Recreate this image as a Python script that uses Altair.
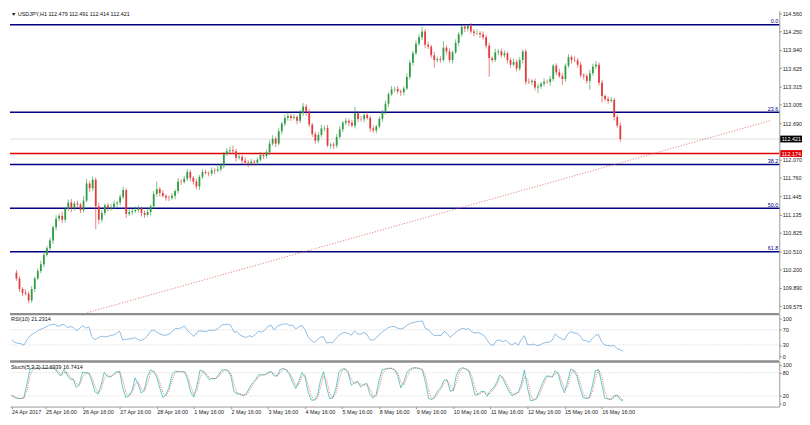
import altair as alt
import pandas as pd

# ---------------- data ----------------
header_text = "\u25bc USDJPY,H1  112.479 112.491 112.414 112.421"
rsi_title = "RSI(10) 21.2314"
stoch_title = "Stoch(5,3,3) 12.6939 16.7414"

first_open = 110.143
closes = [
    110.045, 109.867, 109.803, 109.787, 109.673, 109.867, 110.045, 110.175, 110.288, 110.450,
    110.563, 110.693, 110.919, 111.065, 111.113, 111.048, 111.227, 111.340, 111.243, 111.324,
    111.307, 111.211, 111.372, 111.664, 111.583, 111.728, 111.275, 111.048, 111.162, 111.291,
    111.243, 111.259, 111.324, 111.340, 111.437, 111.550, 111.146, 111.178, 111.194, 111.211,
    111.243, 111.162, 111.129, 111.178, 111.275, 111.486, 111.567, 111.502, 111.453, 111.421,
    111.415, 111.453, 111.534, 111.696, 111.690, 111.745, 111.858, 111.761, 111.696, 111.615,
    111.777, 111.858, 111.842, 111.835, 111.890, 111.884, 111.906, 111.971, 112.165, 112.214,
    112.230, 112.214, 112.100, 112.117, 112.052, 112.020, 112.003, 112.036, 112.020, 112.068,
    112.149, 112.133, 112.197, 112.343, 112.424, 112.343, 112.553, 112.683, 112.780, 112.812,
    112.780, 112.796, 112.731, 112.861, 112.974, 112.877, 112.667, 112.505, 112.392, 112.489,
    112.602, 112.610, 112.311, 112.327, 112.311, 112.456, 112.586, 112.699, 112.731, 112.699,
    112.651, 112.861, 112.764, 112.758, 112.829, 112.780, 112.602, 112.570, 112.634, 112.764,
    112.877, 113.023, 113.185, 113.266, 113.272, 113.233, 113.217, 113.282, 113.476, 113.719,
    113.881, 114.042, 114.155, 114.252, 114.026, 113.994, 113.848, 113.767, 113.783, 113.770,
    113.977, 113.913, 113.767, 113.897, 114.058, 114.204, 114.333, 114.301, 114.345, 114.252,
    114.220, 114.228, 114.204, 114.155, 114.010, 113.800, 113.767, 113.897, 113.913, 113.848,
    113.881, 113.767, 113.686, 113.735, 113.621, 113.767, 113.913, 113.395, 113.388, 113.411,
    113.298, 113.314, 113.363, 113.395, 113.390, 113.443, 113.670, 113.557, 113.492, 113.443,
    113.670, 113.816, 113.767, 113.760, 113.686, 113.508, 113.492, 113.411, 113.541, 113.654,
    113.686, 113.379, 113.152, 113.104, 113.071, 113.088, 112.796, 112.651, 112.421,
]
# upper / lower shadow lengths in pips (0.01)
wick_up = [
    5, 4, 3, 6, 4, 5, 3, 4, 6, 3,
    4, 5, 3, 6, 4, 7, 3, 5, 6, 4,
    5, 3, 8, 8, 4, 5, 4, 6, 5, 3,
    4, 6, 5, 3, 4, 6, 3, 5, 4, 6,
    5, 3, 4, 6, 3, 5, 13, 4, 5, 3,
    4, 5, 3, 6, 4, 5, 5, 4, 3, 5,
    3, 5, 4, 3, 5, 4, 6, 3, 4, 5,
    6, 8, 4, 5, 3, 6, 4, 5, 3, 4,
    5, 3, 4, 6, 6, 4, 5, 3, 6, 6,
    4, 5, 3, 6, 6, 4, 5, 3, 4, 5,
    6, 4, 5, 3, 4, 5, 6, 3, 5, 4,
    5, 11, 4, 5, 3, 6, 4, 5, 3, 4,
    4, 5, 3, 6, 4, 5, 3, 4, 6, 5,
    4, 6, 5, 8, 4, 5, 3, 6, 4, 5,
    11, 4, 5, 3, 6, 4, 3, 3, 2, 5,
    4, 6, 3, 5, 4, 5, 3, 6, 4, 5,
    5, 3, 4, 6, 4, 5, 3, 4, 6, 3,
    4, 5, 3, 6, 4, 5, 3, 4, 6, 5,
    4, 5, 3, 6, 4, 5, 3, 4, 6, 5,
    6, 4, 5, 3, 4, 5, 3, 4, 5,
]
wick_dn = [
    4, 5, 6, 3, 5, 4, 5, 3, 4, 5,
    3, 4, 6, 5, 4, 6, 5, 3, 7, 4,
    6, 5, 4, 3, 6, 5, 39, 8, 5, 4,
    5, 4, 3, 6, 5, 4, 7, 4, 5, 3,
    4, 6, 5, 3, 6, 4, 5, 6, 3, 5,
    5, 3, 6, 4, 5, 3, 4, 6, 5, 5,
    6, 4, 3, 5, 4, 6, 3, 4, 5, 3,
    4, 5, 6, 3, 5, 4, 6, 3, 5, 4,
    3, 5, 4, 5, 4, 6, 3, 5, 4, 5,
    5, 3, 6, 4, 5, 6, 4, 5, 5, 4,
    4, 5, 3, 5, 6, 4, 3, 5, 4, 6,
    3, 5, 6, 4, 5, 3, 6, 4, 5, 3,
    5, 4, 6, 3, 5, 4, 6, 5, 3, 4,
    5, 3, 4, 5, 6, 4, 5, 13, 4, 5,
    3, 5, 4, 6, 3, 5, 4, 6, 5, 4,
    5, 3, 6, 4, 5, 32, 4, 3, 5, 4,
    4, 6, 5, 3, 5, 4, 6, 5, 3, 5,
    5, 10, 4, 5, 3, 6, 4, 5, 3, 10,
    5, 4, 6, 3, 5, 4, 6, 5, 15, 4,
    4, 5, 11, 4, 5, 3, 6, 4, 5,
]

price_ticks = [114.560, 114.250, 113.940, 113.625, 113.315, 113.005, 112.690,
               112.070, 111.760, 111.445, 111.135, 110.825, 110.510, 110.200,
               109.890, 109.575]
fib_prices = [114.366, 112.877, 111.987, 111.243, 110.500]
fib_names = ["0.0", "23.6", "38.2", "50.0", "61.8"]
support_price = 112.174
bid_price = 112.421
trend_idx = [23.2, 247.0]
trend_price = [109.463, 112.731]
rsi_levels = [30, 70]
rsi_ticks = [0, 30, 70, 100]
stoch_levels = [20, 80]
stoch_ticks = [0, 20, 80, 100]
time_idx = [0, 11, 23, 35, 47, 59, 71, 83, 95, 107, 119, 131, 143, 155, 167, 179, 191]
time_labels = ["24 Apr 2017", "25 Apr 16:00", "26 Apr 16:00", "27 Apr 16:00",
               "28 Apr 16:00", "1 May 16:00", "2 May 16:00", "3 May 16:00",
               "4 May 16:00", "5 May 16:00", "8 May 16:00", "9 May 16:00",
               "10 May 16:00", "11 May 16:00", "12 May 16:00", "15 May 16:00",
               "16 May 16:00"]

# ---------------- derived tables ----------------
n = len(closes)
opens = [first_open] + closes[:-1]
highs = [max(o, c) + u / 100 for o, c, u in zip(opens, closes, wick_up)]
lows = [min(o, c) - d / 100 for o, c, d in zip(opens, closes, wick_dn)]
candles = pd.DataFrame({
    "i": list(range(n)), "open": opens, "close": closes, "high": highs, "low": lows,
    "dir": ["up" if c >= o else "down" for o, c in zip(opens, closes)],
})


def rsi_series(vals, period, seed):
    # Wilder smoothing, warmed up with a neutral average move
    ag = al = seed
    out = []
    for k in range(1, len(vals)):
        d = vals[k] - vals[k - 1]
        ag = (ag * (period - 1) + max(d, 0.0)) / period
        al = (al * (period - 1) + max(-d, 0.0)) / period
        out.append(100.0 if al == 0 else 100 - 100 / (1 + ag / al))
    return out


def stoch_series(h, l, c, kp, slow, dp):
    num, den = [], []
    for k in range(len(c)):
        lo = min(l[max(0, k - kp + 1):k + 1])
        hi = max(h[max(0, k - kp + 1):k + 1])
        num.append(c[k] - lo)
        den.append(hi - lo)
    kk = []
    for k in range(len(c)):
        a = sum(num[max(0, k - slow + 1):k + 1])
        b = sum(den[max(0, k - slow + 1):k + 1])
        kk.append(100 * a / b if b else 50.0)
    dd = []
    for k in range(len(c)):
        w = kk[max(0, k - dp + 1):k + 1]
        dd.append(sum(w) / len(w))
    return kk, dd


rsi_vals = rsi_series([first_open] + closes, 8, 0.06)
st_k, st_d = stoch_series(highs, lows, closes, 3, 2, 2)
rsi_df = pd.DataFrame({"i": list(range(n)), "v": rsi_vals})
st_df = pd.DataFrame({"i": list(range(n)) * 2, "v": st_k + st_d,
                      "s": ["main"] * n + ["signal"] * n})

# ---------------- styling ----------------
W = 779
H_MAIN = 306
H_SUB = 46
FONT = "Liberation Sans"
FS = 5.5
GREEN = "#2f9d46"
RED = "#e23b3b"
NAVY = "#000080"

xs = alt.Scale(domain=[-0.5, 248.5], nice=False, zero=False)
ys = alt.Scale(domain=[109.463, 114.6085], nice=False, zero=False)


def right_axis(vals, fmt):
    return alt.Axis(orient="right", values=vals, format=fmt, labelFontSize=FS,
                    labelFont=FONT, labelColor="#222222", tickSize=2,
                    tickColor="#8a8a8a", domainColor="#9a9a9a", labelPadding=1,
                    grid=False, title=None, labelFlush=False, labelOverlap=False)


yax = right_axis(price_ticks, ".3f")
X = alt.X("i:Q", scale=xs, axis=None)
cscale = alt.Scale(domain=["up", "down"], range=[GREEN, RED])

fib_df = pd.DataFrame({"p": fib_prices, "name": fib_names})
fib_rules = alt.Chart(fib_df).mark_rule(color=NAVY, strokeWidth=1.5).encode(
    y=alt.Y("p:Q", scale=ys, axis=yax))
fib_text = alt.Chart(fib_df).mark_text(
    align="right", baseline="bottom", dy=-0.5, fontSize=FS, font=FONT, color=NAVY
).encode(x=alt.value(W - 1), y=alt.Y("p:Q", scale=ys, axis=yax), text="name:N")

support_rule = alt.Chart(pd.DataFrame({"p": [support_price]})).mark_rule(
    color="#e00000", strokeWidth=1.6).encode(y=alt.Y("p:Q", scale=ys, axis=yax))
bid_rule = alt.Chart(pd.DataFrame({"p": [bid_price]})).mark_rule(
    color="#cfcfcf", strokeWidth=0.7).encode(y=alt.Y("p:Q", scale=ys, axis=yax))

trend = alt.Chart(pd.DataFrame({"i": trend_idx, "p": trend_price})).mark_line(
    clip=True, color="#e06666", strokeWidth=0.8, strokeDash=[1.2, 1.6]
).encode(x=X, y=alt.Y("p:Q", scale=ys, axis=yax))

wicks = alt.Chart(candles).mark_rule(strokeWidth=0.8, opacity=0.8).encode(
    x=X, y=alt.Y("low:Q", scale=ys, axis=yax), y2="high:Q",
    color=alt.Color("dir:N", scale=cscale, legend=None))
bodies = alt.Chart(candles).mark_bar(size=1.8).encode(
    x=X, y=alt.Y("open:Q", scale=ys, axis=yax), y2="close:Q",
    color=alt.Color("dir:N", scale=cscale, legend=None))

header = alt.Chart(pd.DataFrame({"t": [header_text]})).mark_text(
    align="left", baseline="middle", fontSize=FS, font=FONT, color="#111111"
).encode(x=alt.value(1), y=alt.value(4), text="t:N")

box_df = pd.DataFrame({"p": [bid_price, support_price], "bg": ["#000000", "#e00000"]})
boxes = alt.Chart(box_df).transform_calculate(
    top="datum.p + 0.058", bot="datum.p - 0.058"
).mark_rect().encode(
    x=alt.value(W + 1), x2=alt.value(W + 23),
    y=alt.Y("top:Q", scale=ys, axis=yax), y2="bot:Q",
    color=alt.Color("bg:N", scale=None))
box_text = alt.Chart(box_df).mark_text(
    align="left", baseline="middle", fontSize=FS, font=FONT, color="white"
).encode(x=alt.value(W + 2.5), y=alt.Y("p:Q", scale=ys, axis=yax),
         text=alt.Text("p:Q", format=".3f"))

main = alt.layer(fib_rules, support_rule, bid_rule, trend, wicks, bodies,
                 fib_text, header, boxes, box_text).properties(width=W, height=H_MAIN)

# ---------------- RSI panel ----------------
rs = alt.Scale(domain=[-7.5, 112.5], nice=False, zero=False)
rax = right_axis(rsi_ticks, "d")
sep = alt.Chart(pd.DataFrame({"k": [0]})).mark_rule(
    color="#8c8c8c", strokeWidth=2.5).encode(
    x=alt.value(0), x2=alt.value(W), y=alt.value(0.4))
rsi_lv = alt.Chart(pd.DataFrame({"v": rsi_levels})).mark_rule(
    color="#c4c4c4", strokeWidth=0.7, strokeDash=[1, 1.5]).encode(
    y=alt.Y("v:Q", scale=rs, axis=rax))
rsi_line = alt.Chart(rsi_df).mark_line(color="#5f9fd6", strokeWidth=0.7).encode(
    x=X, y=alt.Y("v:Q", scale=rs, axis=rax))
rsi_txt = alt.Chart(pd.DataFrame({"t": [rsi_title]})).mark_text(
    align="left", baseline="middle", fontSize=FS, font=FONT, color="#111111"
).encode(x=alt.value(1), y=alt.value(5.5), text="t:N")
rsi_panel = alt.layer(rsi_lv, rsi_line, sep, rsi_txt).properties(width=W, height=H_SUB)

# ---------------- Stochastic panel ----------------
ss = alt.Scale(domain=[-7.5, 110], nice=False, zero=False)
sax = right_axis(stoch_ticks, "d")
label_expr = ("[" + ",".join("'" + t + "'" for t in time_labels) + "][indexof(["
              + ",".join(str(v) for v in time_idx) + "], datum.value)]")
xax = alt.Axis(values=time_idx, labelExpr=label_expr, labelAlign="left",
               labelFontSize=FS, labelFont=FONT, labelColor="#222222",
               tickSize=2, tickColor="#8a8a8a", domainColor="#9a9a9a",
               labelPadding=1, grid=False, title=None, labelFlush=False,
               labelOverlap=False)
XS = alt.X("i:Q", scale=xs, axis=xax)
st_lv = alt.Chart(pd.DataFrame({"v": stoch_levels})).mark_rule(
    color="#c4c4c4", strokeWidth=0.7, strokeDash=[1, 1.5]).encode(
    y=alt.Y("v:Q", scale=ss, axis=sax))
st_main = alt.Chart(st_df).transform_filter("datum.s == 'main'").mark_line(
    color="#20b2aa", strokeWidth=0.7).encode(x=XS, y=alt.Y("v:Q", scale=ss, axis=sax))
st_sig = alt.Chart(st_df).transform_filter("datum.s == 'signal'").mark_line(
    color="#e05a5a", strokeWidth=0.8, strokeDash=[1, 1.2]).encode(
    x=XS, y=alt.Y("v:Q", scale=ss, axis=sax))
st_txt = alt.Chart(pd.DataFrame({"t": [stoch_title]})).mark_text(
    align="left", baseline="middle", fontSize=FS, font=FONT, color="#111111"
).encode(x=alt.value(1), y=alt.value(5.5), text="t:N")
st_panel = alt.layer(st_lv, st_main, st_sig, sep, st_txt).properties(width=W, height=H_SUB)

chart = alt.vconcat(main, rsi_panel, st_panel, spacing=0).resolve_scale(
    x="independent", y="independent", color="independent"
).properties(padding=0, background="white").configure_view(stroke=None)

chart.save("out.html", embed_options={"renderer": "svg", "actions": False})
